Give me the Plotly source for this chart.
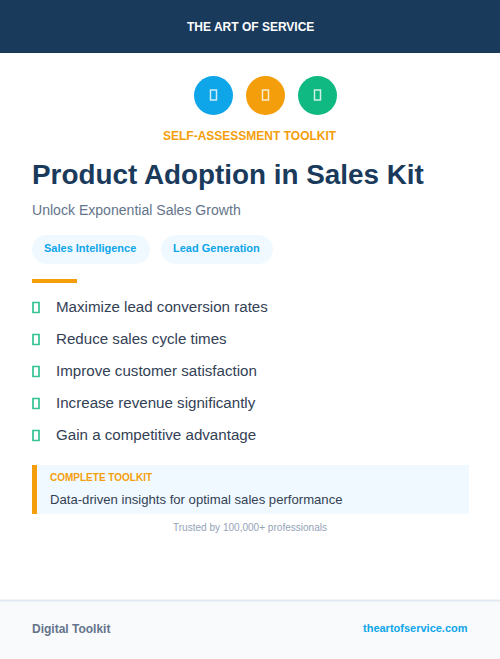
import plotly.graph_objects as go

W = 500
H = 659
FONT = "Liberation Sans"

NAVY = "#1a3a5c"
BLUE = "#0ea5e9"
ORANGE = "#f59e0b"
GREEN = "#10b981"
SLATE = "#334155"
GREY = "#64748b"
PALE = "#f0f9ff"

brand = "THE ART OF SERVICE"
kicker = "SELF-ASSESSMENT TOOLKIT"
title = "Product Adoption in Sales Kit"
subtitle = "Unlock Exponential Sales Growth"
tags = ["Sales Intelligence", "Lead Generation"]
tag_x = [[32, 150], [161, 273]]
benefits = [
    "Maximize lead conversion rates",
    "Reduce sales cycle times",
    "Improve customer satisfaction",
    "Increase revenue significantly",
    "Gain a competitive advantage",
]
benefit_y = [307, 339, 371, 403, 435]
icon_x = [213.5, 265.5, 317.5]
icon_colors = [BLUE, ORANGE, GREEN]
box_label = "COMPLETE TOOLKIT"
box_text = "Data-driven insights for optimal sales performance"
trusted = "Trusted by 100,000+ professionals"
footer_left = "Digital Toolkit"
footer_right = "theartofservice.com"

fig = go.Figure()


def rect(x0, y0, x1, y1, fill, line=None, width=0):
    fig.add_shape(type="rect", x0=x0, y0=y0, x1=x1, y1=y1, fillcolor=fill,
                  line=dict(color=line, width=width) if line else dict(width=0))


def label(x, y, text, size, color, anchor="left", bold=False):
    if bold:
        text = "<b>" + text + "</b>"
    # annotations pad their text by 2px, take that back out
    if anchor == "left":
        x = x - 2
    elif anchor == "right":
        x = x + 2
    fig.add_annotation(x=x, y=y, text=text, showarrow=False, xanchor=anchor, yanchor="middle",
                       font=dict(family=FONT, size=size, color=color))


def pill(x0, y0, x1, y1, fill):
    # plotly paths have no arcs, so the round ends are beziers
    r = (y1 - y0) / 2
    k = r * 0.55
    path = (f"M {x0 + r} {y0} L {x1 - r} {y0} "
            f"C {x1 - r + k} {y0} {x1} {y0 + r - k} {x1} {y0 + r} "
            f"C {x1} {y0 + r + k} {x1 - r + k} {y1} {x1 - r} {y1} "
            f"L {x0 + r} {y1} "
            f"C {x0 + r - k} {y1} {x0} {y0 + r + k} {x0} {y0 + r} "
            f"C {x0} {y0 + r - k} {x0 + r - k} {y0} {x0 + r} {y0} Z")
    fig.add_shape(type="path", path=path, fillcolor=fill, line=dict(width=0))


# header
rect(0, 0, W, 53, NAVY)
label(250, 27, brand, 12, "white", "center", True)

# round icons, the glyph inside is a missing-font box
for x, c in zip(icon_x, icon_colors):
    fig.add_shape(type="circle", x0=x - 19.5, y0=76, x1=x + 19.5, y1=115, fillcolor=c, line=dict(width=0))
    rect(x - 3, 90, x + 3, 100, "rgba(0,0,0,0)", "rgba(255,255,255,0.8)", 1.5)

label(249.5, 136, kicker, 12, ORANGE, "center", True)
label(32, 174, title, 27.85, NAVY, "left", True)
label(32, 210, subtitle, 14.07, GREY)

# tags
for t, (x0, x1) in zip(tags, tag_x):
    pill(x0, 235, x1, 264, PALE)
    label((x0 + x1) / 2 - 1, 248, t, 11, BLUE, "center", True)

rect(32, 279, 77, 283, ORANGE)

# benefit list
for t, y in zip(benefits, benefit_y):
    rect(33, y - 4.5, 39, y + 5.5, "rgba(0,0,0,0)", "rgba(16,185,129,0.85)", 1.7)
    label(56, y - 0.5, t, 15.14, SLATE)

# callout box
rect(32, 465, 469, 514, PALE)
rect(32, 465, 37, 514, ORANGE)
label(50, 477.5, box_label, 10, ORANGE, "left", True)
label(50, 499.5, box_text, 13.13, SLATE)
label(249.5, 527.5, trusted, 10.05, "#94a3b8", "center")

# footer
rect(0, 600, W, H, "#f8fafc")
rect(0, 599.5, W, 601.5, "#e2e8f0")
label(32, 629, footer_left, 12, GREY, "left", True)
label(468, 628, footer_right, 11, BLUE, "right", True)

fig.update_xaxes(range=[0, W], visible=False, fixedrange=True)
fig.update_yaxes(range=[H, 0], visible=False, fixedrange=True)
fig.update_layout(width=W, height=H, margin=dict(l=0, r=0, t=0, b=0), showlegend=False,
                  plot_bgcolor="white", paper_bgcolor="white")

fig.write_html("out.html", config=dict(displayModeBar=False),
               post_script="document.body.style.margin='0';")
